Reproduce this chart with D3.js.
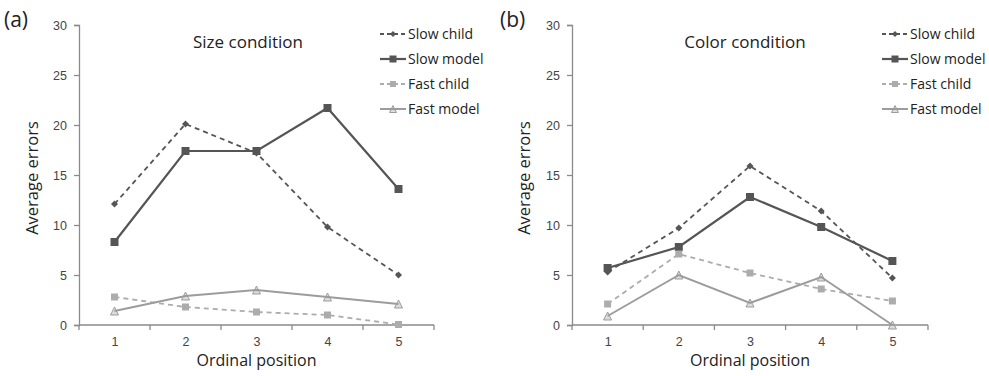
<!DOCTYPE html>
<html>
<head>
<meta charset="utf-8">
<script src="https://cdn.jsdelivr.net/npm/d3@7"></script>
<style>
  body { margin: 0; background: #fff; }
  svg { font-family: "Open Sans", Lato, sans-serif; }
</style>
</head>
<body>
<svg id="chart" width="989" height="376"></svg>
<script>
// data
var categories = [1, 2, 3, 4, 5];
var yTicks = [0, 5, 10, 15, 20, 25, 30];
var seriesNames = ['Slow child', 'Slow model', 'Fast child', 'Fast model'];

var sizeSlowChild = [12.1, 20.1, 17.2, 9.8, 5.0];
var sizeSlowModel = [8.3, 17.4, 17.4, 21.7, 13.6];
var sizeFastChild = [2.8, 1.8, 1.3, 1.0, 0.05];
var sizeFastModel = [1.4, 2.9, 3.5, 2.8, 2.1];

var colorSlowChild = [5.3, 9.7, 15.9, 11.4, 4.7];
var colorSlowModel = [5.7, 7.8, 12.8, 9.8, 6.4];
var colorFastChild = [2.1, 7.1, 5.2, 3.6, 2.4];
var colorFastModel = [0.9, 5.0, 2.2, 4.8, 0.0];

// look of each series (same order as seriesNames)
var styles = [
    { color: '#555', dash: '5,4', marker: 'diamond', size: 7, width: 1.8 },
    { color: '#555', dash: null, marker: 'square', size: 8, width: 2.2 },
    { color: '#acacac', dash: '5,4', marker: 'square', size: 7, width: 1.8 },
    { color: '#9c9c9c', dash: null, marker: 'triangle', size: 8, width: 2 }
];

var svg = d3.select('#chart');

function drawPanel(opts) {
    var g = svg.append('g');
    var x = d3.scalePoint().domain(categories).range([opts.left, opts.right]).padding(0.5);
    var y = d3.scaleLinear().domain([0, 30]).range([325, 25]);
    var step = x.step();

    // y axis
    var yAxis = g.append('g')
        .attr('transform', 'translate(' + opts.left + ',0)')
        .call(d3.axisLeft(y).tickValues(yTicks).tickSize(5).tickPadding(7));
    yAxis.select('.domain').attr('stroke', '#8a8a8a').attr('stroke-width', 1.3);
    yAxis.selectAll('.tick line').attr('stroke', '#8a8a8a').attr('stroke-width', 1.3);
    yAxis.selectAll('text').attr('fill', '#444').style('font-size', '12.5px');

    // x axis (labels centered, ticks at category boundaries)
    var xAxis = g.append('g')
        .attr('transform', 'translate(0,325)')
        .call(d3.axisBottom(x).tickSize(0).tickPadding(12));
    xAxis.select('.domain').remove();
    xAxis.selectAll('text').attr('fill', '#444').style('font-size', '12.5px');
    g.append('line')
        .attr('x1', opts.left).attr('x2', opts.right)
        .attr('y1', 325).attr('y2', 325)
        .attr('stroke', '#8a8a8a').attr('stroke-width', 1.3);
    var bounds = categories.map(c => x(c) - step / 2).concat([x(categories[categories.length - 1]) + step / 2]);
    g.selectAll('.xb').data(bounds).join('line')
        .attr('x1', d => d).attr('x2', d => d)
        .attr('y1', 325).attr('y2', 330)
        .attr('stroke', '#8a8a8a').attr('stroke-width', 1.3);

    // titles
    g.append('text')
        .attr('x', opts.titleX).attr('y', 48)
        .attr('text-anchor', 'middle')
        .style('font-size', '17px').attr('fill', '#222')
        .text(opts.title);
    g.append('text')
        .attr('x', opts.tagX).attr('y', 27)
        .style('font-size', '21px').attr('fill', '#222')
        .text(opts.tag);
    g.append('text')
        .attr('transform', 'translate(' + opts.yTitleX + ',178) rotate(-90)')
        .attr('text-anchor', 'middle')
        .style('font-size', '16.5px').attr('fill', '#222')
        .text('Average errors');
    g.append('text')
        .attr('x', x(3)).attr('y', 366)
        .attr('text-anchor', 'middle')
        .style('font-size', '16px').attr('fill', '#222')
        .text('Ordinal position');

    var line = d3.line().x((d, i) => x(categories[i])).y(d => y(d));

    opts.series.forEach((vals, si) => {
        var st = styles[si];
        g.append('path')
            .datum(vals)
            .attr('d', line)
            .attr('fill', 'none')
            .attr('stroke', st.color)
            .attr('stroke-width', st.width)
            .attr('stroke-dasharray', st.dash);
        g.selectAll('.m' + si).data(vals).join('path')
            .attr('transform', (d, i) => 'translate(' + x(categories[i]) + ',' + y(d) + ')')
            .attr('d', markerPath(st.marker, st.size))
            .attr('fill', st.color)
            .attr('stroke', st.marker === 'triangle' ? '#9c9c9c' : 'none')
            .attr('fill-opacity', st.marker === 'triangle' ? 0.35 : 1);
    });

    // legend
    var leg = g.append('g');
    seriesNames.forEach((name, si) => {
        var st = styles[si];
        var ly = 34 + si * 25;
        leg.append('line')
            .attr('x1', opts.legX).attr('x2', opts.legX + 26)
            .attr('y1', ly).attr('y2', ly)
            .attr('stroke', st.color)
            .attr('stroke-width', st.width)
            .attr('stroke-dasharray', st.dash ? '4,3' : null);
        leg.append('path')
            .attr('transform', 'translate(' + (opts.legX + 13) + ',' + ly + ')')
            .attr('d', markerPath(st.marker, st.size - 1))
            .attr('fill', st.color)
            .attr('stroke', st.marker === 'triangle' ? '#9c9c9c' : 'none')
            .attr('fill-opacity', st.marker === 'triangle' ? 0.35 : 1);
        leg.append('text')
            .attr('x', opts.legX + 28).attr('y', ly + 5)
            .style('font-size', '14px').attr('fill', '#222')
            .text(name);
    });
}

function markerPath(kind, s) {
    var h = s / 2;
    if (kind === 'diamond') return 'M0,' + (-h) + 'L' + h + ',0L0,' + h + 'L' + (-h) + ',0Z';
    if (kind === 'square') return 'M' + (-h) + ',' + (-h) + 'h' + s + 'v' + s + 'h' + (-s) + 'Z';
    return 'M0,' + (-h) + 'L' + h + ',' + h + 'L' + (-h) + ',' + h + 'Z';
}

drawPanel({
    left: 79, right: 434, title: 'Size condition', titleX: 248,
    tag: '(a)', tagX: 4, yTitleX: 38, legX: 380,
    series: [sizeSlowChild, sizeSlowModel, sizeFastChild, sizeFastModel]
});
drawPanel({
    left: 572, right: 928, title: 'Color condition', titleX: 745,
    tag: '(b)', tagX: 500, yTitleX: 530, legX: 882,
    series: [colorSlowChild, colorSlowModel, colorFastChild, colorFastModel]
});
</script>
</body>
</html>
